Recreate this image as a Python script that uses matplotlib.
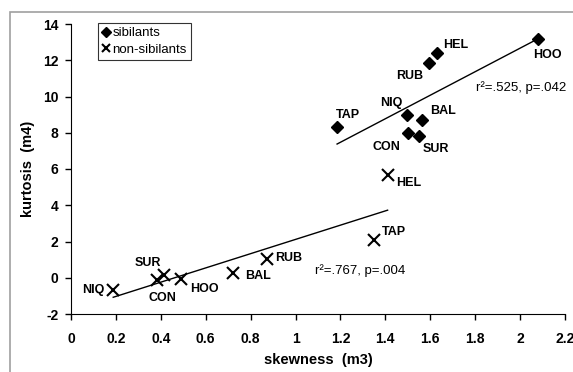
import numpy as np
import matplotlib.pyplot as plt
from matplotlib.patches import Rectangle

plt.rcParams['font.family'] = ['Liberation Sans', 'DejaVu Sans']
plt.rcParams['axes.unicode_minus'] = False

# sibilants
sib_names = ['HOO', 'HEL', 'RUB', 'NIQ', 'BAL', 'CON', 'SUR', 'TAP']
sib_skew = [2.08, 1.63, 1.595, 1.495, 1.565, 1.50, 1.55, 1.185]
sib_kurt = [13.2, 12.4, 11.85, 8.97, 8.73, 8.01, 7.81, 8.30]

# non-sibilants
non_names = ['HEL', 'TAP', 'RUB', 'BAL', 'HOO', 'SUR', 'CON', 'NIQ']
non_skew = [1.41, 1.35, 0.875, 0.723, 0.49, 0.414, 0.384, 0.188]
non_kurt = [5.69, 2.06, 1.05, 0.26, -0.05, 0.17, -0.11, -0.66]

# label offsets (pixels)
sib_off = [(9, -16), (19, 8), (-19, -13), (-15, 12), (21, 9), (-21, -14), (17, -13), (11, 12)]
non_off = [(21, -8), (20, 8), (21, 1), (25, -3), (23, -10), (-16, 12), (5, -18), (-20, 0)]

fig = plt.figure(figsize=(5.73, 3.72), dpi=100)
fig.patches.append(Rectangle((10 / 573, -0.1), 1.2, 1 - 12 / 372 + 0.1, transform=fig.transFigure,
                             fill=False, edgecolor='#a0a0a0', linewidth=1.2))
ax = fig.add_axes([71 / 573, 58 / 372, 494 / 573, 290 / 372])

ax.plot(sib_skew, sib_kurt, 'D', color='black', markersize=6.5, label='sibilants')
ax.plot(non_skew, non_kurt, 'x', color='black', markersize=8, markeredgewidth=1.5, label='non-sibilants')

# regression lines
for xs, ys in [(sib_skew, sib_kurt), (non_skew, non_kurt)]:
    m, b = np.polyfit(xs, ys, 1)
    xx = np.array([min(xs), max(xs)])
    ax.plot(xx, m * xx + b, color='black', linewidth=1)

for n, x, y, o in zip(sib_names, sib_skew, sib_kurt, sib_off):
    ax.annotate(n, (x, y), xytext=o, textcoords='offset pixels', ha='center', va='center',
                fontsize=9, fontweight='bold')
for n, x, y, o in zip(non_names, non_skew, non_kurt, non_off):
    ax.annotate(n, (x, y), xytext=o, textcoords='offset pixels', ha='center', va='center',
                fontsize=9, fontweight='bold')

ax.text(2.003, 10.48, 'r²=.525, p=.042', ha='center', va='center', fontsize=9.5)
ax.text(1.287, 0.40, 'r²=.767, p=.004', ha='center', va='center', fontsize=9.5)

ax.set_xlim(0, 2.2)
ax.set_ylim(-2, 14)
ax.set_xticks(np.arange(0, 2.21, 0.2))
ax.set_xticklabels(['0', '0.2', '0.4', '0.6', '0.8', '1', '1.2', '1.4', '1.6', '1.8', '2', '2.2'])
ax.set_yticks(range(-2, 15, 2))
ax.spines['top'].set_visible(False)
ax.spines['right'].set_visible(False)
ax.tick_params(direction='out', length=4, width=1, labelsize=10, pad=5)
ax.tick_params(axis='x', pad=9)
for lab in ax.get_xticklabels() + ax.get_yticklabels():
    lab.set_fontweight('bold')
ax.set_xlabel('skewness  (m3)', fontsize=10.5, fontweight='bold', labelpad=5)
ax.set_ylabel('kurtosis  (m4)', fontsize=10.5, fontweight='bold', labelpad=6)

leg = ax.legend(loc='upper left', bbox_to_anchor=(98 / 573, 1 - 23 / 372), bbox_transform=fig.transFigure,
                fontsize=9.5, frameon=True, fancybox=False, edgecolor='black', borderpad=0.3,
                handlelength=0.6, handletextpad=0.2, labelspacing=0.35, borderaxespad=0, markerscale=0.75)
leg.get_frame().set_linewidth(0.8)

fig.savefig('out.png', dpi=100)
